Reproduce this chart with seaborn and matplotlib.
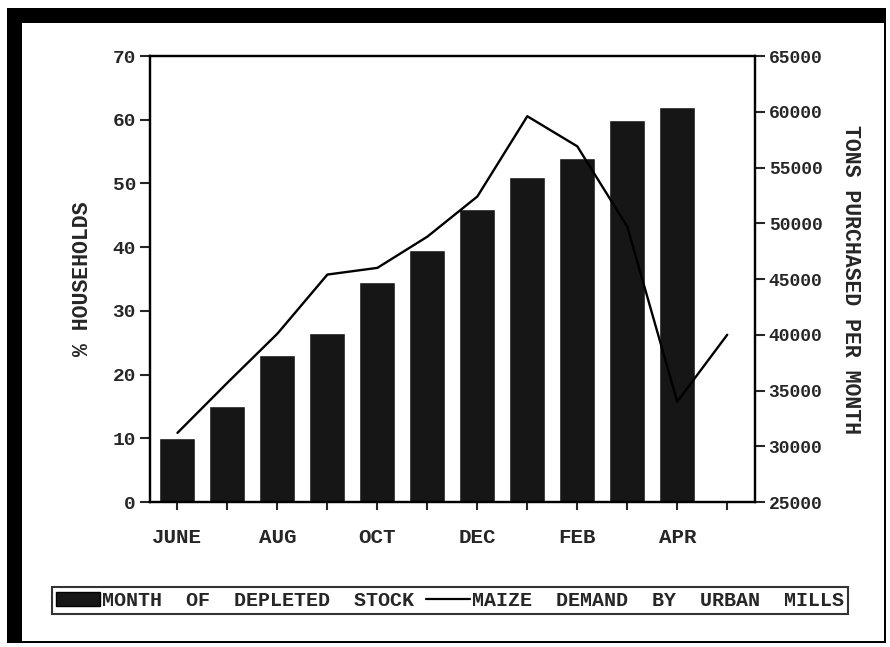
import numpy as np
import pandas as pd
import matplotlib
matplotlib.use("Agg")
import matplotlib.pyplot as plt
from matplotlib.patches import Patch, Rectangle
from matplotlib.lines import Line2D
import seaborn as sns

# data
months = ["JUN", "JUL", "AUG", "SEP", "OCT", "NOV", "DEC", "JAN", "FEB", "MAR", "APR", "MAY"]
tick_labels = ["JUNE", "", "AUG", "", "OCT", "", "DEC", "", "FEB", "", "APR", ""]
pct_households = [10, 15, 23, 26.5, 34.5, 39.5, 46, 51, 54, 60, 62]   # no bar for MAY
tons_purchased = [31200, 35700, 40100, 45400, 46000, 48800, 52400, 59600, 56900, 49700, 34000, 40000]

FONT = "Liberation Mono"

sns.set_theme(style="white")
plt.rcParams["font.family"] = [FONT, "DejaVu Sans"]
plt.rcParams["font.weight"] = "bold"

df_bars = pd.DataFrame({"month": months[:len(pct_households)], "pct": pct_households})
df_line = pd.DataFrame({"pos": np.arange(len(months)), "tons": tons_purchased})

fig = plt.figure(figsize=(8.9, 6.47), dpi=100)
fig.patch.set_facecolor("white")
ax = fig.add_axes([0.1685, 0.2241, 0.6795, 0.6893])

sns.barplot(data=df_bars, x="month", y="pct", order=months, color="#161616",
            width=0.72, saturation=1, ax=ax, zorder=2)
ax.set_xlim(-0.55, len(months) - 0.45)
ax.set_ylim(0, 70)
ax.set_yticks(range(0, 71, 10))
ax.set_xticks(range(len(months)))
ax.set_xticklabels(tick_labels, fontsize=15, fontweight="bold")
ax.set_xlabel("")
ax.set_ylabel("% HOUSEHOLDS", fontsize=15.5, fontweight="bold", labelpad=14)
ax.tick_params(axis="y", labelsize=14, direction="out", length=7, width=1.5, left=True, pad=3)
ax.tick_params(axis="x", direction="out", length=6, width=1.5, bottom=True, pad=13)
for lab in ax.get_yticklabels():
    lab.set_fontweight("bold")

ax2 = ax.twinx()
sns.lineplot(data=df_line, x="pos", y="tons", color="black", linewidth=1.7, ax=ax2)
ax2.set_ylim(25000, 65000)
ax2.set_yticks(range(25000, 65001, 5000))
ax2.set_xlim(-0.55, len(months) - 0.45)
ax2.set_ylabel("TONS PURCHASED PER MONTH", fontsize=15.5, fontweight="bold",
               rotation=270, labelpad=28)
ax2.tick_params(axis="y", labelsize=13, direction="out", length=7, width=1.5, right=True, pad=3)
for lab in ax2.get_yticklabels():
    lab.set_fontweight("bold")

for a in (ax, ax2):
    for s in a.spines.values():
        s.set_color("black")
        s.set_linewidth(1.6)

handles = [Patch(facecolor="#161616", edgecolor="black"),
           Line2D([0], [0], color="black", linewidth=1.6)]
labels = ["MONTH  OF  DEPLETED  STOCK", "MAIZE  DEMAND  BY  URBAN  MILLS"]
leg = fig.legend(handles, labels, loc="center", bbox_to_anchor=(0.506, 0.0726), ncol=2,
                 frameon=True, fancybox=False, edgecolor="black",
                 handlelength=2.2, handletextpad=0.1, columnspacing=0.6,
                 borderpad=0.2, prop={"family": FONT, "weight": "bold", "size": 14.4})
leg.get_frame().set_linewidth(1.5)

# scanned page border: heavy top/left, thin right/bottom
W, H = 890, 647
fig.add_artist(Rectangle((7 / W, 1 - 23 / H), 878 / W, 15 / H, transform=fig.transFigure,
                         color="black", lw=0))
fig.add_artist(Rectangle((7 / W, 1 - 642 / H), 15 / W, 634 / H, transform=fig.transFigure,
                         color="black", lw=0))
fig.add_artist(Rectangle((884 / W, 1 - 642 / H), 2 / W, 634 / H, transform=fig.transFigure,
                         color="black", lw=0))
fig.add_artist(Rectangle((7 / W, 1 - 643 / H), 879 / W, 2 / H, transform=fig.transFigure,
                         color="black", lw=0))

fig.savefig("out.png", dpi=100)
